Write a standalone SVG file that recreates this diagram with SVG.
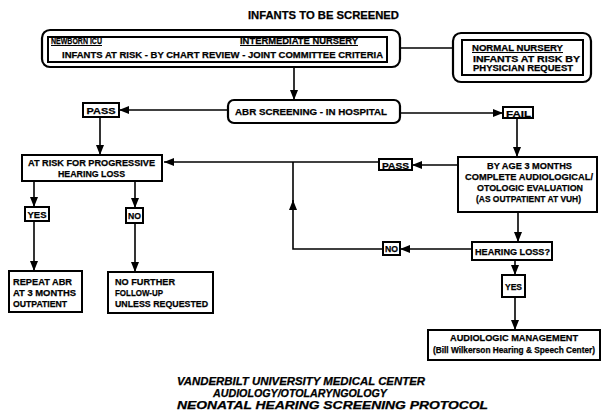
<svg xmlns="http://www.w3.org/2000/svg" width="602" height="413" viewBox="0 0 602 413">
<defs>
<style>
text{font-family:"Liberation Sans",Arial,sans-serif;font-weight:bold;font-size:9.5px;fill:#000;stroke:#000;stroke-width:0.25}
.t{font-size:10.5px}
.s{font-size:8.5px}
.i{font-style:italic;font-size:10px}
.box{fill:#fff;stroke:#000;stroke-width:2}
.rnd{fill:#fff;stroke:#000;stroke-width:2.2}
.ln{fill:none;stroke:#000;stroke-width:1.6}
.u{stroke:#000;stroke-width:1}
</style>
<marker id="ah" markerUnits="userSpaceOnUse" markerWidth="10" markerHeight="8" refX="10" refY="4" orient="auto">
<path d="M0,0 L10,4 L0,8 z" fill="#000"/>
</marker>
</defs>
<rect width="602" height="413" fill="#fff"/>

<text id="title" class="t" x="248" y="19" textLength="151" lengthAdjust="spacingAndGlyphs">INFANTS TO BE SCREENED</text>

<g id="connectors">
<path class="ln" d="M400,48 H453"/>
<path class="ln" d="M294,67 V100" marker-end="url(#ah)"/>
<path class="ln" d="M228,110 H119" marker-end="url(#ah)"/>
<path class="ln" d="M400,113 H503" marker-end="url(#ah)"/>
<path class="ln" d="M100,117 V155" marker-end="url(#ah)"/>
<path class="ln" d="M517,118 V157" marker-end="url(#ah)"/>
<path class="ln" d="M458,165 H412" marker-end="url(#ah)"/>
<path class="ln" d="M379,162 H164" marker-end="url(#ah)"/>
<path class="ln" d="M383,249 H293 V200" marker-end="url(#ah)"/>
<path class="ln" d="M293,202 V162"/>
<path class="ln" d="M518,212 V242" marker-end="url(#ah)"/>
<path class="ln" d="M472,249 H400" marker-end="url(#ah)"/>
<path class="ln" d="M515,260 V275" marker-end="url(#ah)"/>
<path class="ln" d="M515,297 V330" marker-end="url(#ah)"/>
<path class="ln" d="M34,181 V207" marker-end="url(#ah)"/>
<path class="ln" d="M135,181 V208" marker-end="url(#ah)"/>
<path class="ln" d="M34,221 V271" marker-end="url(#ah)"/>
<path class="ln" d="M135,223 V272" marker-end="url(#ah)"/>
</g>

<g id="node-nicu">
<rect class="rnd" x="42" y="30" width="358" height="37" rx="8"/>
<rect class="box" x="48" y="37" width="339" height="25"/>
<text x="51" y="44" textLength="51" lengthAdjust="spacingAndGlyphs">NEWBORN ICU</text>
<line class="u" x1="51" y1="45.5" x2="102" y2="45.5"/>
<text x="240" y="44" textLength="118" lengthAdjust="spacingAndGlyphs">INTERMEDIATE NURSERY</text>
<line class="u" x1="240" y1="45.5" x2="358" y2="45.5"/>
<text x="62" y="58" textLength="321" lengthAdjust="spacingAndGlyphs">INFANTS AT RISK - BY CHART REVIEW - JOINT COMMITTEE CRITERIA</text>
</g>

<g id="node-normal">
<rect class="rnd" x="453" y="33" width="138" height="49" rx="8"/>
<rect class="box" x="462" y="40" width="121" height="35"/>
<text class="s" x="472" y="51" textLength="91" lengthAdjust="spacingAndGlyphs">NORMAL NURSERY</text>
<line class="u" x1="472" y1="52.5" x2="563" y2="52.5"/>
<text class="s" x="473" y="61.5" textLength="107" lengthAdjust="spacingAndGlyphs">INFANTS AT RISK BY</text>
<text class="s" x="473" y="71" textLength="100" lengthAdjust="spacingAndGlyphs">PHYSICIAN REQUEST</text>
</g>

<g id="node-abr">
<rect class="rnd" x="228" y="100" width="172" height="23" rx="6"/>
<text x="235" y="115" textLength="152" lengthAdjust="spacingAndGlyphs">ABR SCREENING - IN HOSPITAL</text>
</g>

<g id="node-pass1">
<rect class="box" x="83" y="103" width="36" height="14"/>
<text x="86.5" y="113.5" textLength="29" lengthAdjust="spacingAndGlyphs">PASS</text>
</g>

<g id="node-fail">
<rect class="box" x="503" y="107" width="30" height="11"/>
<text x="506" y="116.5" textLength="25" lengthAdjust="spacingAndGlyphs">FAIL</text>
</g>

<g id="node-atrisk">
<rect class="box" x="22" y="155" width="140" height="26"/>
<text x="28" y="166" textLength="127" lengthAdjust="spacingAndGlyphs">AT RISK FOR PROGRESSIVE</text>
<text x="58" y="176.5" textLength="67" lengthAdjust="spacingAndGlyphs">HEARING LOSS</text>
</g>

<g id="node-pass2">
<rect class="box" x="379" y="159" width="33" height="11"/>
<text x="382" y="168.5" textLength="27" lengthAdjust="spacingAndGlyphs">PASS</text>
</g>

<g id="node-eval">
<rect class="box" x="458" y="157" width="139" height="55"/>
<text x="487" y="169" textLength="85" lengthAdjust="spacingAndGlyphs">BY AGE 3 MONTHS</text>
<text x="465" y="180" textLength="128" lengthAdjust="spacingAndGlyphs">COMPLETE  AUDIOLOGICAL/</text>
<text x="477" y="191" textLength="106" lengthAdjust="spacingAndGlyphs">OTOLOGIC EVALUATION</text>
<text x="476" y="202" textLength="105" lengthAdjust="spacingAndGlyphs">(AS OUTPATIENT AT VUH)</text>
</g>

<g id="node-yes1">
<rect class="box" x="25" y="207" width="24" height="14"/>
<text x="27.5" y="217.5" textLength="19" lengthAdjust="spacingAndGlyphs">YES</text>
</g>

<g id="node-no1">
<rect class="box" x="126" y="208" width="17" height="15"/>
<text x="128" y="219" textLength="13" lengthAdjust="spacingAndGlyphs">NO</text>
</g>

<g id="node-no2">
<rect class="box" x="383" y="242" width="17" height="13"/>
<text x="385" y="252" textLength="13" lengthAdjust="spacingAndGlyphs">NO</text>
</g>

<g id="node-hl">
<rect class="box" x="472" y="242" width="80" height="18"/>
<text x="475" y="255" textLength="75" lengthAdjust="spacingAndGlyphs">HEARING LOSS?</text>
</g>

<g id="node-yes2">
<rect class="box" x="502" y="275" width="23" height="22"/>
<text x="505" y="290" textLength="17" lengthAdjust="spacingAndGlyphs">YES</text>
</g>

<g id="node-repeat">
<rect class="box" x="9" y="271" width="73" height="41"/>
<text x="13" y="285" textLength="59" lengthAdjust="spacingAndGlyphs">REPEAT ABR</text>
<text x="13" y="296" textLength="63" lengthAdjust="spacingAndGlyphs">AT 3 MONTHS</text>
<text x="13" y="306.5" textLength="54" lengthAdjust="spacingAndGlyphs">OUTPATIENT</text>
</g>

<g id="node-nofurther">
<rect class="box" x="108" y="272" width="105" height="41"/>
<text x="115" y="285" textLength="60" lengthAdjust="spacingAndGlyphs">NO FURTHER</text>
<text x="115" y="296" textLength="48" lengthAdjust="spacingAndGlyphs">FOLLOW-UP</text>
<text x="115" y="306.5" textLength="93" lengthAdjust="spacingAndGlyphs">UNLESS REQUESTED</text>
</g>

<g id="node-audio">
<rect class="box" x="428" y="330" width="172" height="30"/>
<text x="450" y="341" textLength="128" lengthAdjust="spacingAndGlyphs">AUDIOLOGIC MANAGEMENT</text>
<text class="s" x="433" y="353" textLength="162" lengthAdjust="spacingAndGlyphs">(Bill Wilkerson Hearing &amp; Speech Center)</text>
</g>

<g id="footer">
<text class="i" x="177" y="385" textLength="248" lengthAdjust="spacingAndGlyphs">VANDERBILT UNIVERSITY MEDICAL CENTER</text>
<text class="i" x="213" y="397" textLength="174" lengthAdjust="spacingAndGlyphs">AUDIOLOGY/OTOLARYNGOLOGY</text>
<text class="i" x="177" y="408.5" textLength="311" lengthAdjust="spacingAndGlyphs">NEONATAL  HEARING  SCREENING  PROTOCOL</text>
</g>
</svg>
